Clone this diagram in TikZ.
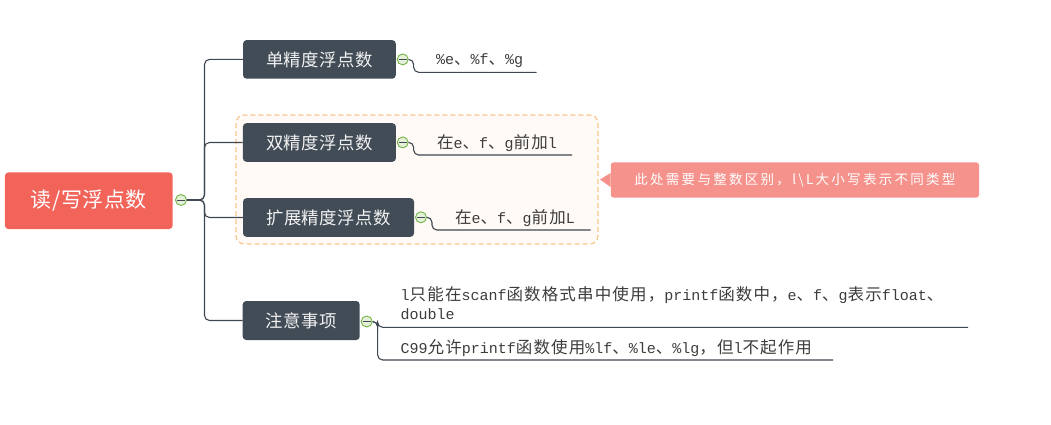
\documentclass[tikz,border=0pt]{standalone}
\usepackage{fontspec}
\setmainfont{Liberation Mono}
\newfontfamily\cjk[LetterSpace=2.5]{Noto Sans CJK SC}
\newfontfamily\cjkleaf[Scale=1.1,LetterSpace=7]{Noto Sans CJK SC}
\newfontfamily\cjknote[LetterSpace=17]{Noto Sans CJK SC}
\newcommand\C[1]{{\cjkleaf #1}}
\definecolor{rootred}{HTML}{F2645A}
\definecolor{darknode}{HTML}{424C56}
\definecolor{notepink}{HTML}{F5928C}
\definecolor{boxfill}{HTML}{FFFAF6}
\definecolor{boxline}{HTML}{F9C68D}
\definecolor{linec}{HTML}{3F4852}
\definecolor{cgreen}{HTML}{74B446}
\definecolor{cfill}{HTML}{E4F0D8}
\definecolor{leaftext}{HTML}{3C3C3C}
\begin{document}
\begin{tikzpicture}[x=1pt,y={(0pt,-1pt)},
  rootbox/.style={fill=rootred, rounded corners=3.5, inner sep=0, text=white,
    minimum width=167.7, minimum height=56.7, font=\fontsize{21}{23}\cjk},
  branch/.style={fill=darknode, rounded corners=3.5, inner sep=0, text=white!95!black,
    minimum height=38.6, font=\fontsize{17.4}{19}\cjk},
  collapse/.style={circle, draw=cgreen, fill=cfill, line width=0.9, minimum size=11, inner sep=0,
    path picture={\draw[linec, line width=0.9] ([xshift=1.6pt]path picture bounding box.west) -- ([xshift=-1.6pt]path picture bounding box.east);}},
  conn/.style={draw=linec, line width=1.1, rounded corners=5},
  leaf/.style={inner sep=0, text=leaftext, font=\fontsize{15}{19}\selectfont},
  note/.style={fill=notepink, rounded corners=3, inner sep=0, text=white,
    minimum width=368.3, minimum height=35.4, font=\fontsize{13.5}{16}\cjknote}
]
\useasboundingbox (0,0) rectangle (1051,424);
% group box
\draw[boxline, fill=boxfill, dashed, dash pattern=on 5pt off 3pt, line width=1.2, rounded corners=8]
  (236,115) rectangle (598,244);
% nodes
\node[rootbox] (root) at (88.8,200.7) {读/写浮点数};
\node[collapse] (c0) at (181,200) {};
\node[branch, minimum width=152.7] (b1) at (319.4,59.4) {单精度浮点数};
\node[branch, minimum width=153] (b2) at (319.4,142.5) {双精度浮点数};
\node[branch, minimum width=171] (b3) at (328.5,217.5) {扩展精度浮点数};
\node[branch, minimum width=117, minimum height=39] (b4) at (301.2,320.5) {注意事项};
\node[collapse] (c1) at (402.7,59.4) {};
\node[collapse] (c2) at (402.7,142.4) {};
\node[collapse] (c3) at (421,217.3) {};
\node[collapse] (c4) at (366.7,321.5) {};
% trunk connectors
\coordinate (j0) at (204.5,200);
\draw[conn] (c0.east) -- (j0) |- (b1.west);
\draw[conn] (c0.east) -- (j0) |- (b2.west);
\draw[conn] (c0.east) -- (j0) |- (b3.west);
\draw[conn] (c0.east) -- (j0) |- (b4.west);
% leaves
\coordinate (u1) at (536.5,72.3);
\coordinate (u2) at (572,155);
\coordinate (u3) at (590.5,230);
\coordinate (u4) at (968,327.3);
\coordinate (u5) at (833,360);
\draw[conn] (c1.east) -- ++(5,0) |- (u1);
\draw[conn] (c2.east) -- ++(5,0) |- (u2);
\draw[conn] (c3.east) -- ++(5,0) |- (u3);
\draw[conn] (c4.east) -- ++(5,0) |- (u4);
\draw[conn] (c4.east) -- ++(5,0) |- (u5);
\node[leaf, anchor=base west] (l1) at (436,64.5) {\%e\C{、}\%f\C{、}\%g};
\node[leaf, anchor=base west] (l2) at (437,148) {\C{在}e\C{、}f\C{、}g\C{前加}l};
\node[leaf, anchor=base west] (l3) at (455,223) {\C{在}e\C{、}f\C{、}g\C{前加}L};
\node[leaf, anchor=north west, align=left] (l4) at (400.5,286.5)
  {l\C{只能在}scanf\C{函数格式串中使用，}printf\C{函数中，}e\C{、}f\C{、}g\C{表示}float\C{、}\\double};
\node[leaf, anchor=base west] (l5) at (400.5,353.5)
  {C99\C{允许}printf\C{函数使用}\%lf\C{、}\%le\C{、}\%lg\C{，但}l\C{不起作用}};
% note callout
\node[note] (nt) at (794.9,180) {此处需要与整数区别，{\fontsize{13.5}{16}\selectfont l\textbackslash L}大小写表示不同类型};
\coordinate (tip) at (600,179.5);
\fill[notepink] ([yshift=7pt]nt.west) -- (tip) -- ([yshift=-7pt]nt.west) -- cycle;
\end{tikzpicture}
\end{document}
